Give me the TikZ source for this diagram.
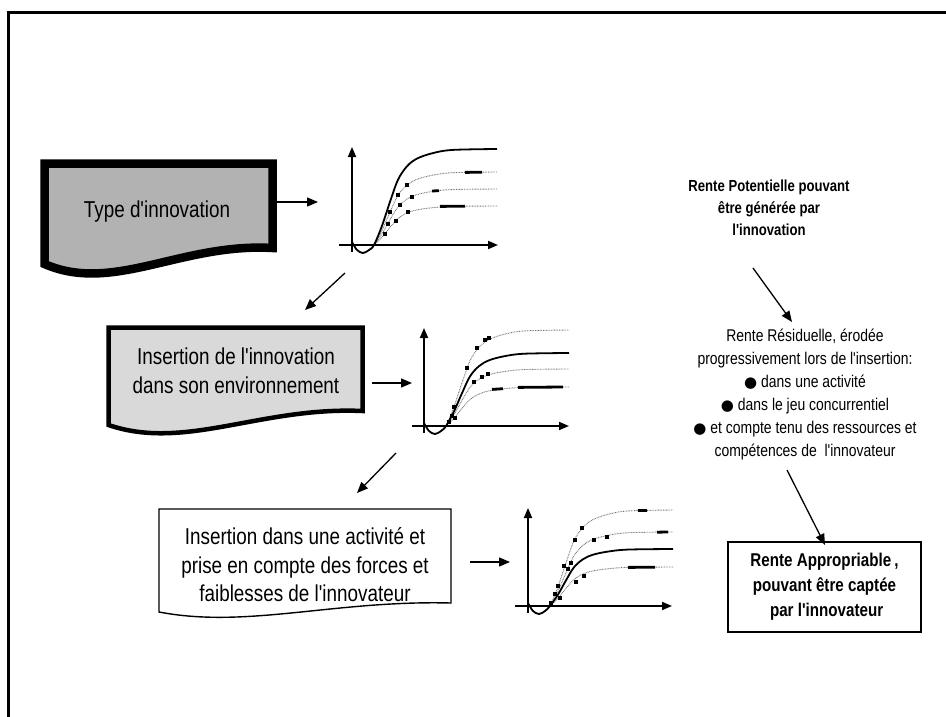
\documentclass[tikz,border=0pt]{standalone}
\usepackage{fontspec}
\setmainfont{Liberation Sans}[FakeStretch=0.82, Ligatures=TeXOff]
\newfontfamily\symfont{DejaVu Sans}
\usetikzlibrary{arrows.meta}

\tikzset{
  conn/.style={line width=1.3pt, -{Triangle[length=11pt,width=9pt]}},
  axisline/.style={line width=1.8pt, -{Triangle[length=10pt,width=8pt]}},
  solidcurve/.style={line width=1.8pt, black},
  dotcurve/.style={line width=0.9pt, black!55, dash pattern=on 0.8pt off 0.8pt},
  plat/.style={line width=2.8pt, black},
  boxtext/.style={align=center, inner sep=0pt, font=\fontsize{23}{28.5}\selectfont},
}

% S-curve: #1 style, #2 level
\newcommand\scurve[2]{%
  \draw[#1] plot[smooth, tension=0.55]
    coordinates {(0,-3) (5,5) (11,8) (17,5) (22,0) (30,{-0.2*#2}) (38,{-0.45*#2}) (46,{-0.68*#2})
                 (55,{-0.82*#2}) (65,{-0.9*#2}) (80,{-0.955*#2}) (100,{-0.99*#2}) (145,{-#2})};}
% square marker on a curve: #1 x, #2 y
\newcommand\sqm[2]{\fill[black] ({#1-1.9},{#2-1.9}) rectangle ({#1+1.9},{#2+1.9});}

% document shape: #1 style, #2 xl, #3 xr, #4 yt, #5 yb (left), #6 yb (right)
\newcommand\docshape[6]{%
  \draw[#1] (#2,#4) -- (#3,#4) -- (#3,#6)
    .. controls ({#2+0.6*(#3-#2)},{#5-1.33*(#5-#6)}) and ({#2+0.3*(#3-#2)},{#5+1.87*(#5-#6)}) .. (#2,#5) -- cycle;}

\begin{document}
\begin{tikzpicture}[x=1pt, y=-1pt]
\useasboundingbox (0,0) rectangle (946,717);

% outer frame (only left and top visible)
\draw[line width=3pt] (8,717) -- (8,13) -- (946,13);

% ---------- boxes ----------
\docshape{line width=8.5pt, line join=miter, fill=black!30}{44.5}{272.5}{163.5}{264}{248}
\node[boxtext] (t1) at (157,212) {Type d'innovation};

\docshape{line width=4.5pt, line join=miter, fill=black!15}{108.5}{362.5}{327.5}{425}{411}
\node[boxtext] (t2) at (236,371) {Insertion de l'innovation\\dans son environnement};

\docshape{line width=1.4pt, fill=white}{159}{451}{509}{612}{603}
\node[boxtext] (t3) at (305,565) {Insertion dans une activité et\\prise en compte des forces et\\faiblesses de l'innovateur};

% ---------- graph 1 ----------
\begin{scope}[shift={(352,245)}]
  \coordinate (g1) at (0,0);
  \scurve{dotcurve}{73}
  \scurve{dotcurve}{56}
  \scurve{dotcurve}{39}
  \scurve{solidcurve}{96}
  \sqm{38}{-33}\sqm{46}{-50}\sqm{55}{-60}
  \sqm{36}{-21}\sqm{48}{-40}\sqm{60}{-48}
  \sqm{33}{-11}\sqm{44}{-24}\sqm{56}{-33}
  \draw[plat] (113,-72.6) -- (130,-72.8);
  \draw[plat] (80,-54) -- (87,-54.3);
  \draw[plat] (88,-38.6) -- (113,-38.8);
  \draw[axisline] (0,7) -- (0,-98);
  \draw[axisline] (-13,0) -- (146,0);
\end{scope}

% ---------- graph 2 ----------
\begin{scope}[shift={(424,426)}]
  \coordinate (g2) at (0,0);
  \scurve{dotcurve}{96}
  \scurve{dotcurve}{57}
  \scurve{dotcurve}{39}
  \scurve{solidcurve}{73}
  \sqm{30}{-19}\sqm{43}{-58}\sqm{53}{-78}\sqm{61}{-86}\sqm{65}{-88}
  \sqm{28}{-10}\sqm{25}{-4}\sqm{50}{-44}\sqm{58}{-49}\sqm{64}{-52}
  \sqm{31}{-8}
  \draw[plat] (68,-36.6) -- (79,-37.3);
  \draw[plat] (94,-38.6) -- (139,-39);
  \draw[axisline] (0,7) -- (0,-98);
  \draw[axisline] (-12,0) -- (145,0);
\end{scope}

% ---------- graph 3 ----------
\begin{scope}[shift={(528,606)}]
  \coordinate (g3) at (0,0);
  \scurve{dotcurve}{96}
  \scurve{dotcurve}{74}
  \scurve{dotcurve}{39}
  \scurve{solidcurve}{57}
  \sqm{30}{-20}\sqm{36}{-40}\sqm{47}{-66}\sqm{54}{-78}
  \sqm{27}{-12}\sqm{40}{-37}\sqm{43}{-43}\sqm{66}{-66}\sqm{79}{-69}
  \sqm{32}{-8}\sqm{48}{-24}\sqm{56}{-30}\sqm{23}{-3}
  \draw[plat] (110,-95.5) -- (119,-95.6);
  \draw[plat] (129,-73.8) -- (140,-74);
  \draw[plat] (100,-38.6) -- (127,-38.8);
  \draw[axisline] (0,7) -- (0,-98);
  \draw[axisline] (-13,0) -- (144,0);
\end{scope}

% ---------- right column ----------
\node[align=center, inner sep=0pt, font=\bfseries\fontsize{16}{22}\selectfont] (rp) at (769,208)
  {Rente Potentielle pouvant\\être générée par\\l'innovation};

\node[align=center, inner sep=0pt, font=\fontsize{17}{23}\selectfont] (rr) at (805,395)
  {Rente Résiduelle, érodée\\progressivement lors de l'insertion:\\{\symfont\fontsize{15}{23}\selectfont ●} dans une activité\\{\symfont\fontsize{15}{23}\selectfont ●} dans le jeu concurrentiel\\{\symfont\fontsize{15}{23}\selectfont ●} et compte tenu des ressources et\\compétences de\ \ l'innovateur};

\node[draw, line width=1.8pt, align=center, inner sep=0pt, minimum width=193pt, minimum height=90pt,
      font=\bfseries\fontsize{18.5}{25}\selectfont] (ra) at (824.5,587)
  {Rente Appropriable\,,\\pouvant être captée\\\ par l'innovateur};

% ---------- connectors ----------
\coordinate (a1s) at (277,202);  \coordinate (a1e) at (318,202);
\coordinate (a2s) at (345,273);  \coordinate (a2e) at (305,310);
\coordinate (a3s) at (372,383);  \coordinate (a3e) at (412,383);
\coordinate (a4s) at (396,453);  \coordinate (a4e) at (357,493);
\coordinate (a5s) at (470,562);  \coordinate (a5e) at (510,562);
\coordinate (a6s) at (753,268);  \coordinate (a6e) at (792,322);
\coordinate (a7s) at (787,470);  \coordinate (a7e) at (825,545);

\draw[conn] (a1s) -- (a1e);
\draw[conn] (a2s) -- (a2e);
\draw[conn] (a3s) -- (a3e);
\draw[conn] (a4s) -- (a4e);
\draw[conn] (a5s) -- (a5e);
\draw[conn] (a6s) -- (a6e);
\draw[conn] (a7s) -- (a7e);
\end{tikzpicture}
\end{document}
